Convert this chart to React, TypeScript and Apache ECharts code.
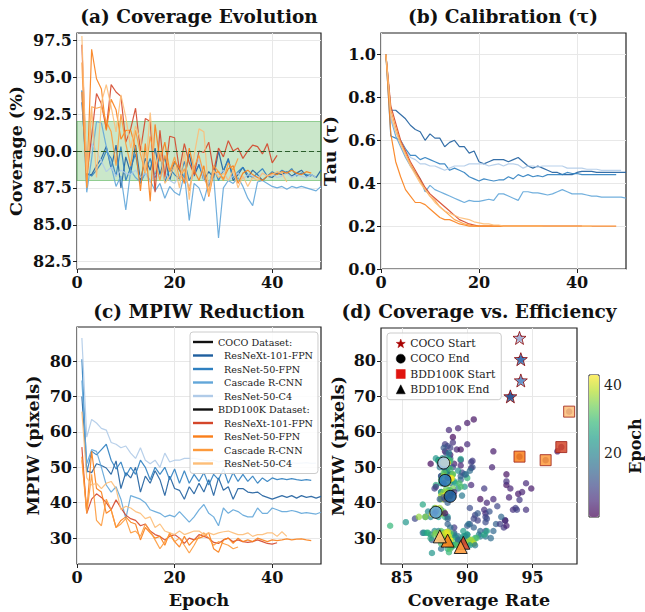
import React, { useEffect, useRef } from "react";
import * as echarts from "echarts";

const modelNames = ["ResNeXt-101-FPN", "ResNet-50-FPN", "Cascade R-CNN", "ResNet-50-C4"];
const cocoColors = ["#1f5f9f", "#2f80c0", "#62a6d9", "#b0cbe8"];
const bddColors = ["#d4462a", "#fa7f1a", "#fd9a3c", "#fdbe78"];

// ---- Coverage (%) per epoch ----
const covCocoX101 = [
  93.3, 88.4, 88.4, 89.0, 89.5, 90.3, 88.8, 90.4, 87.5, 89.6,
  88.5, 90.4, 88.0, 89.5, 88.7, 90.2, 88.4, 89.6, 88.0, 89.3,
  88.7, 88.2, 89.8, 88.3, 89.1, 88.0, 88.6, 88.2, 90.0, 88.6,
  89.5, 88.0, 88.4, 88.9, 88.2, 88.7, 88.4, 88.0, 88.3, 88.2,
  88.5, 88.4, 88.6, 88.3, 88.5, 88.7, 88.3, 88.4, 88.2, 88.7];
const covCocoR50 = [
  94.1, 88.5, 88.3, 88.7, 89.2, 90.0, 89.5, 88.3, 90.3, 88.0,
  88.9, 89.8, 87.8, 88.6, 89.5, 88.2, 89.9, 87.9, 88.8, 88.4,
  88.1, 89.3, 88.0, 88.6, 89.0, 88.3, 87.6, 88.9, 88.0, 88.7,
  89.4, 88.2, 88.6, 88.9, 88.4, 88.2, 88.5, 88.8, 88.3, 88.6,
  88.4, 88.7, 88.5, 88.8, 88.3, 88.5, 88.4, 88.3];
const covCocoCascade = [
  94.1, 87.2, 89.5, 92.0, 91.9, 90.3, 89.0, 87.6, 88.3, 86.0,
  88.7, 88.2, 87.9, 88.5, 88.0, 87.3, 87.8, 86.8, 87.6, 87.2,
  87.0, 88.5, 85.3, 87.8, 87.5, 86.6, 87.9, 88.3, 84.1, 87.5,
  88.0, 87.8, 88.2, 87.6, 86.8, 86.3, 87.9, 88.0, 87.8, 87.6,
  87.5, 87.6, 87.4, 87.6, 87.5, 87.6, 87.5, 87.4, 87.3, 87.6];
const covCocoC4 = [
  94.0, 88.9, 90.5, 90.0, 89.3, 88.6, 88.9, 88.3, 88.7, 88.5,
  88.4, 88.7, 88.2, 88.5, 87.9, 88.4, 88.2, 88.6, 88.0, 87.8,
  88.4, 88.1, 87.6, 88.5, 89.5, 88.0, 87.8, 88.6, 88.4, 88.7,
  88.0, 88.3, 88.5, 88.1, 88.4, 88.3, 88.2, 88.5, 88.3, 88.4,
  88.2, 88.3, 88.5, 88.2, 88.4, 88.3, 88.2, 88.4, 88.2];
const covBddX101 = [
  97.2, 88.3, 91.0, 93.9, 93.2, 91.5, 94.5, 94.0, 93.7, 90.6,
  91.5, 92.9, 90.0, 92.2, 92.0, 87.2, 91.4, 88.2, 91.0, 90.9,
  88.7, 90.5, 89.2, 88.4, 90.0, 89.9, 90.6, 88.6, 90.2, 89.6,
  90.7, 90.0, 90.2, 89.5, 90.0, 90.4, 90.3, 89.8, 90.5, 89.2,
  89.7];
const covBddR50 = [
  94.0, 87.6, 96.9, 94.9, 94.2, 91.4, 93.5, 92.8, 90.8, 91.4,
  91.4, 90.2, 87.3, 90.5, 86.6, 91.8, 89.3, 90.6, 88.6, 89.3,
  88.8, 87.8, 90.2, 88.7, 88.0, 89.0, 86.9, 88.5, 88.6, 88.1,
  88.8, 89.0, 87.8, 88.5, 88.7, 88.4, 88.2, 88.0, 88.3, 88.5,
  88.4, 88.6, 88.5, 88.7, 88.5, 88.4, 88.6, 88.5];
const covBddCascade = [
  96.0, 87.5, 93.0, 92.9, 93.0, 92.0, 91.3, 89.0, 92.5, 90.5,
  89.0, 91.4, 89.8, 88.5, 91.0, 89.3, 88.0, 89.7, 88.6, 89.6,
  88.1, 88.8, 87.3, 88.9, 89.7, 88.4, 87.2, 89.0, 88.6, 88.0,
  89.2, 88.7, 89.5];
const covBddC4 = [
  97.8, 88.5, 93.0, 88.2, 93.3, 94.5, 93.0, 91.3, 93.8, 92.3,
  90.2, 91.7, 90.8, 88.5, 92.6, 88.7, 90.1, 87.8, 88.3, 89.0,
  87.5, 90.0, 86.7, 89.7, 91.5, 91.3, 87.0, 88.7, 88.2, 88.5,
  88.0, 88.7, 87.5, 88.3, 87.6, 88.2, 88.0, 88.5, 88.3, 88.4,
  88.6, 88.5, 87.9];

// ---- Tau per epoch ----
const tauCocoX101 = [
  1.00, 0.74, 0.74, 0.72, 0.70, 0.67, 0.65, 0.64, 0.60, 0.63,
  0.61, 0.61, 0.57, 0.59, 0.60, 0.57, 0.57, 0.54, 0.55, 0.50,
  0.49, 0.50, 0.51, 0.51, 0.51, 0.50, 0.51, 0.52, 0.50, 0.48,
  0.47, 0.48, 0.47, 0.46, 0.45, 0.45, 0.44, 0.44, 0.44, 0.45,
  0.455, 0.455, 0.455, 0.45, 0.45, 0.45, 0.45, 0.45, 0.45, 0.45];
const tauCocoR50 = [
  1.00, 0.62, 0.61, 0.60, 0.56, 0.53, 0.53, 0.51, 0.52, 0.51,
  0.50, 0.49, 0.49, 0.46, 0.47, 0.46, 0.45, 0.43, 0.42, 0.41,
  0.42, 0.415, 0.41, 0.415, 0.415, 0.43, 0.42, 0.44, 0.43, 0.44,
  0.43, 0.435, 0.43, 0.44, 0.44, 0.44, 0.44, 0.45, 0.445, 0.445,
  0.44, 0.44, 0.44, 0.44, 0.44, 0.44, 0.44, 0.44];
const tauCocoCascade = [
  1.00, 0.70, 0.62, 0.57, 0.52, 0.48, 0.45, 0.42, 0.36, 0.39,
  0.37, 0.36, 0.35, 0.34, 0.33, 0.32, 0.31, 0.32, 0.315, 0.315,
  0.32, 0.325, 0.32, 0.35, 0.35, 0.34, 0.33, 0.32, 0.36, 0.36,
  0.355, 0.355, 0.35, 0.345, 0.35, 0.36, 0.37, 0.36, 0.35, 0.35,
  0.35, 0.345, 0.34, 0.34, 0.335, 0.335, 0.335, 0.335, 0.335, 0.33];
const tauCocoC4 = [
  1.00, 0.70, 0.64, 0.60, 0.55, 0.52, 0.51, 0.49, 0.49, 0.48,
  0.48, 0.47, 0.46, 0.47, 0.48, 0.48, 0.48, 0.49, 0.49, 0.49,
  0.49, 0.48, 0.485, 0.49, 0.48, 0.49, 0.49, 0.485, 0.47, 0.48,
  0.48, 0.475, 0.48, 0.48, 0.48, 0.48, 0.48, 0.47, 0.47, 0.47,
  0.47, 0.465, 0.465, 0.465, 0.46, 0.46, 0.46, 0.46, 0.46];
const tauBddX101 = [
  1.00, 0.76, 0.68, 0.60, 0.55, 0.50, 0.46, 0.42, 0.38, 0.35,
  0.33, 0.31, 0.29, 0.27, 0.25, 0.23, 0.22, 0.21, 0.205, 0.20,
  0.20, 0.20, 0.20, 0.20, 0.20, 0.20, 0.20, 0.20, 0.20, 0.20,
  0.20, 0.20, 0.20, 0.20, 0.20, 0.20, 0.20, 0.20, 0.20, 0.20,
  0.20];
const tauBddR50 = [
  1.00, 0.63, 0.50, 0.43, 0.37, 0.34, 0.31, 0.31, 0.30, 0.28,
  0.26, 0.24, 0.23, 0.23, 0.22, 0.21, 0.205, 0.20, 0.20, 0.20,
  0.20, 0.20, 0.20, 0.20, 0.20, 0.20, 0.20, 0.20, 0.20, 0.20,
  0.20, 0.20, 0.20, 0.20, 0.20, 0.20, 0.20, 0.20, 0.20, 0.20,
  0.20, 0.20, 0.20, 0.20, 0.20, 0.20, 0.20, 0.20];
const tauBddCascade = [
  1.00, 0.74, 0.66, 0.59, 0.54, 0.49, 0.45, 0.41, 0.37, 0.34,
  0.32, 0.29, 0.27, 0.25, 0.23, 0.22, 0.21, 0.205, 0.20, 0.20,
  0.20, 0.20, 0.20, 0.20, 0.20, 0.20, 0.20, 0.20, 0.20, 0.20,
  0.20, 0.20, 0.20];
const tauBddC4 = [
  1.00, 0.72, 0.64, 0.58, 0.53, 0.48, 0.44, 0.40, 0.37, 0.34,
  0.31, 0.29, 0.27, 0.26, 0.25, 0.24, 0.235, 0.23, 0.22, 0.215,
  0.21, 0.21, 0.205, 0.205, 0.20, 0.20, 0.20, 0.20, 0.20, 0.20,
  0.20, 0.20, 0.20, 0.20, 0.20, 0.20, 0.20, 0.20, 0.20, 0.20,
  0.20, 0.20, 0.20];

// ---- MPIW (pixels) per epoch ----
const mpiwCocoX101 = [
  70.0, 49.0, 48.5, 51.0, 50.5, 49.8, 48.0, 51.8, 44.0, 48.5,
  47.0, 50.0, 43.0, 47.5, 45.5, 49.0, 46.5, 42.0, 47.5, 44.0,
  43.5, 41.0, 44.5, 42.5, 45.5, 43.0, 46.5, 42.0, 47.0, 43.5,
  44.5, 41.0, 44.0, 44.0, 43.0, 42.8, 43.0, 42.0, 41.5, 41.0,
  41.5, 42.0, 41.5, 42.0, 41.3, 42.0, 41.5, 41.8, 41.3, 41.8];
const mpiwCocoR50 = [
  80.5, 48.5, 54.5, 53.5, 55.0, 56.5, 52.0, 49.5, 51.5, 47.5,
  50.0, 48.0, 52.0, 50.0, 46.5, 50.0, 48.0, 50.0, 46.5, 49.5,
  45.5, 49.0, 45.5, 48.0, 46.0, 48.5, 45.0, 48.0, 46.5, 49.5,
  45.5, 48.5, 46.0, 48.0, 46.0, 47.5, 45.5, 47.0, 46.0, 47.0,
  46.5, 46.8, 46.5, 46.8, 46.5, 46.3, 46.5, 46.3];
const mpiwCocoCascade = [
  74.5, 51.0, 55.0, 54.5, 50.0, 45.0, 43.0, 44.5, 41.0, 35.5,
  42.0, 41.5, 41.0, 40.0, 38.0, 37.5, 37.0, 36.0, 36.5, 36.0,
  37.5, 36.0, 34.5, 36.0, 38.0, 39.5, 37.0, 36.0, 33.5, 38.5,
  37.0, 38.0, 37.5, 36.5, 36.0, 36.0, 38.5, 37.0, 37.0, 38.5,
  38.0, 37.5, 37.5, 37.8, 37.5, 37.0, 37.2, 37.0, 36.8, 37.3];
const mpiwCocoC4 = [
  86.5, 58.5, 63.5, 62.5, 61.0, 60.5, 57.0, 56.5, 55.5, 56.0,
  54.0, 52.5, 55.5, 52.0, 51.0, 52.0, 50.0, 54.0, 51.5, 52.0,
  52.0, 52.5, 52.5, 52.5, 52.3, 52.0, 51.8, 52.0, 51.5, 51.8,
  51.5, 51.7, 51.3, 51.5, 51.2, 51.5, 51.3, 51.4, 51.2, 51.3,
  51.1, 51.3, 51.2, 51.3, 51.1, 51.2, 51.3, 51.1, 51.2];
const mpiwBddX101 = [
  55.7, 37.0, 41.0, 42.5, 41.5, 40.0, 38.0, 40.8, 38.5, 36.5,
  35.5, 35.0, 33.5, 34.0, 32.0, 31.0, 30.5, 29.5, 30.5, 31.0,
  30.0, 28.5, 30.0, 29.5, 31.0, 30.5, 30.0, 28.8, 28.5, 29.5,
  30.0, 29.0, 29.5, 29.0, 28.8, 29.0, 29.5, 29.0, 28.5, 28.3,
  28.7];
const mpiwBddR50 = [
  53.0, 37.5, 54.5, 44.0, 43.0, 37.0, 38.0, 33.0, 35.0, 36.0,
  34.5, 34.0, 29.5, 33.0, 31.5, 30.0, 30.5, 28.0, 31.5, 29.0,
  27.5, 30.5, 28.0, 29.5, 30.0, 30.5, 31.5, 27.0, 26.0, 29.5,
  30.0, 28.5, 30.0, 29.0, 29.5, 29.0, 30.0, 29.5, 29.0, 29.5,
  29.3, 29.5, 29.8, 29.5, 29.7, 29.8, 29.5, 29.3];
const mpiwBddCascade = [
  52.0, 37.0, 48.0, 35.0, 33.5, 41.0, 38.0, 33.0, 34.0, 35.5,
  31.5, 32.0, 30.5, 34.0, 32.0, 29.5, 27.0, 29.0, 31.0, 29.0,
  30.0, 28.0, 25.8, 28.0, 30.5, 31.5, 30.0, 28.0, 29.0, 28.5,
  28.0, 27.0, 27.5];
const mpiwBddC4 = [
  65.7, 47.0, 45.0, 45.5, 44.0, 45.5, 46.0, 44.0, 38.0, 39.0,
  38.5, 37.5, 37.0, 35.5, 36.0, 33.0, 34.0, 32.0, 31.5, 31.0,
  32.0, 31.0, 31.5, 32.0, 32.0, 31.0, 31.5, 31.0, 31.5, 31.8,
  32.0, 31.5, 31.0, 31.0, 31.5, 30.5, 31.0, 31.0, 31.5, 31.5,
  30.5, 31.8, 30.5];

// ---- tick labels ----
const covTicks = [82.5, 85.0, 87.5, 90.0, 92.5, 95.0, 97.5];
const tauTicks = [0.0, 0.2, 0.4, 0.6, 0.8, 1.0];
const epochTicks = [0, 20, 40];
const mpiwTicks = [30, 40, 50, 60, 70, 80];
const rateTicks = [85, 90, 95];
const colorbarTicks = [20, 40];
const viridis = ["#440154", "#482878", "#3e4989", "#31688e", "#26828e", "#1f9e89", "#35b779", "#6ece58", "#b5de2b", "#fde725"];

const FONT = "DejaVu Serif";

const cov = [covCocoX101, covCocoR50, covCocoCascade, covCocoC4, covBddX101, covBddR50, covBddCascade, covBddC4];
const tau = [tauCocoX101, tauCocoR50, tauCocoCascade, tauCocoC4, tauBddX101, tauBddR50, tauBddCascade, tauBddC4];
const mpiw = [mpiwCocoX101, mpiwCocoR50, mpiwCocoCascade, mpiwCocoC4, mpiwBddX101, mpiwBddR50, mpiwBddCascade, mpiwBddC4];
const colors = [...cocoColors, ...bddColors];
const names = [
  ...modelNames.map((m) => "COCO|" + m),
  ...modelNames.map((m) => "BDD100K|" + m),
];

function blend(hex: string, a: number) {
  const n = parseInt(hex.slice(1), 16);
  const r = (n >> 16) & 255, g = (n >> 8) & 255, b = n & 255;
  const f = (c: number) => Math.round(c * a + 255 * (1 - a));
  return `rgb(${f(r)},${f(g)},${f(b)})`;
}

const STAR = "path://M0,-10L2.35,-3.24L9.51,-3.09L3.8,1.24L5.88,8.09L0,4.1L-5.88,8.09L-3.8,1.24L-9.51,-3.09L-2.35,-3.24Z";

function buildOption() {
  const tickLabel = { fontFamily: FONT, fontWeight: "bold" as const, fontSize: 16, color: "#111" };
  const nameStyle = { fontFamily: FONT, fontWeight: "bold" as const, fontSize: 17.5, color: "#111" };
  const splitLine = { show: true, lineStyle: { color: "#e8e8e8", width: 1 } };
  const mkX = (gi: number, min: number, max: number, ticks: number[], name?: string, fmt?: (v: number) => string) => ({
    type: "value", gridIndex: gi, min, max,
    axisLine: { show: false },
    axisTick: { show: true, length: 4, customValues: ticks, lineStyle: { color: "#222" } },
    axisLabel: { ...tickLabel, margin: 5, customValues: ticks, formatter: fmt || ((v: number) => String(v)) },
    splitLine: { ...splitLine },
    name, nameLocation: "middle", nameGap: 27, nameTextStyle: nameStyle,
  });
  const mkY = (gi: number, min: number, max: number, ticks: number[], name: string, gap: number, fmt?: (v: number) => string) => ({
    type: "value", gridIndex: gi, min, max,
    axisLine: { show: false },
    axisTick: { show: true, length: 4, customValues: ticks, lineStyle: { color: "#222" } },
    axisLabel: { ...tickLabel, margin: 5, customValues: ticks, formatter: fmt || ((v: number) => String(v)) },
    splitLine: { ...splitLine },
    name, nameLocation: "middle", nameGap: gap, nameRotate: 90, nameTextStyle: nameStyle,
  });

  const gridBase = { show: true, borderColor: "#222", borderWidth: 1.2, backgroundColor: "transparent", containLabel: false };
  const grid = [
    { ...gridBase, left: 77, top: 33, width: 244, height: 236 },
    { ...gridBase, left: 381, top: 33, width: 245, height: 236 },
    { ...gridBase, left: 77, top: 327, width: 244, height: 237 },
    { ...gridBase, left: 381, top: 328, width: 196, height: 236 },
    { ...gridBase, left: 589, top: 375, width: 10, height: 142, borderWidth: 1 },
  ];
  const xAxis: any[] = [
    mkX(0, 0, 50, epochTicks),
    mkX(1, 0, 50, epochTicks),
    mkX(2, 0, 50, epochTicks, "Epoch"),
    mkX(3, 83.4, 98.4, rateTicks, "Coverage Rate"),
    { type: "value", gridIndex: 4, min: 0, max: 1, show: false },
  ];
  const yAxis: any[] = [
    mkY(0, 82, 98, covTicks, "Coverage (%)", 52, (v) => v.toFixed(1)),
    mkY(1, 0, 1.1, tauTicks, "Tau (τ)", 42, (v) => v.toFixed(1)),
    mkY(2, 22.7, 89.6, mpiwTicks, "MPIW (pixels)", 35),
    mkY(3, 22.7, 89.3, mpiwTicks, "MPIW (pixels)", 34),
    {
      type: "value", gridIndex: 4, min: 1, max: 43, position: "right",
      axisLine: { show: false },
      axisTick: { show: true, length: 4, customValues: colorbarTicks, lineStyle: { color: "#222" } },
      axisLabel: { fontFamily: FONT, fontSize: 14, color: "#222", margin: 5, customValues: colorbarTicks },
      splitLine: { show: false },
      name: "Epoch", nameLocation: "middle", nameRotate: 90, nameGap: 28, nameTextStyle: { ...nameStyle, fontSize: 16 },
    },
  ];

  const series: any[] = [];
  const lineSeries = (panel: number, data: number[][]) => {
    data.forEach((arr, s) => {
      series.push({
        type: "line", name: names[s], xAxisIndex: panel, yAxisIndex: panel,
        data: arr.map((v, i) => [i + 1, v]),
        symbol: "none", showSymbol: false, color: colors[s],
        lineStyle: { width: 1.2, opacity: 0.9 }, z: 3, silent: true,
      });
    });
  };
  // band + target line in panel (a)
  series.push({
    type: "line", name: "_band", xAxisIndex: 0, yAxisIndex: 0, data: [], symbol: "none", silent: true,
    markArea: {
      silent: true,
      itemStyle: { color: "rgba(44,160,44,0.25)", borderColor: "rgba(44,160,44,0.45)", borderWidth: 1 },
      data: [[{ xAxis: 0, yAxis: 88 }, { xAxis: 50, yAxis: 92 }]],
    },
    markLine: {
      silent: true, symbol: "none", label: { show: false },
      lineStyle: { color: "#2c5e2c", type: [5, 3], width: 1 },
      data: [{ yAxis: 90 }],
    },
  });
  lineSeries(0, cov);
  lineSeries(1, tau);
  lineSeries(2, mpiw);
  series.push({ type: "line", name: "COCO Dataset:", xAxisIndex: 2, yAxisIndex: 2, data: [], color: "#111", symbol: "none" });
  series.push({ type: "line", name: "BDD100K Dataset:", xAxisIndex: 2, yAxisIndex: 2, data: [], color: "#111", symbol: "none" });

  // scatter of coverage vs MPIW, coloured by epoch
  const scatterData: number[][] = [];
  cov.forEach((c, s) => c.forEach((v, i) => scatterData.push([v, mpiw[s][i], i + 1])));
  const scatterIndex = series.length;
  series.push({
    type: "scatter", name: "_scatter", xAxisIndex: 3, yAxisIndex: 3, data: scatterData,
    symbolSize: 6.5, itemStyle: { opacity: 0.7 }, z: 2, silent: true,
  });
  series.push({
    type: "scatter", name: "COCO Start", xAxisIndex: 3, yAxisIndex: 3, symbol: STAR, symbolSize: 13, z: 5,
    itemStyle: { color: "#b00000", borderColor: "#8b0000", borderWidth: 1 },
    data: [0, 1, 2, 3].map((s) => ({ value: [cov[s][0], mpiw[s][0]], itemStyle: { color: colors[s] } })),
  });
  series.push({
    type: "scatter", name: "COCO End", xAxisIndex: 3, yAxisIndex: 3, symbol: "circle", symbolSize: 12, z: 5,
    itemStyle: { color: "#000", borderColor: "#111", borderWidth: 1, opacity: 0.9 },
    data: [0, 1, 2, 3].map((s) => ({ value: [cov[s][cov[s].length - 1], mpiw[s][mpiw[s].length - 1]], itemStyle: { color: colors[s] } })),
  });
  series.push({
    type: "scatter", name: "BDD100K Start", xAxisIndex: 3, yAxisIndex: 3, symbol: "rect", symbolSize: 11, z: 5,
    itemStyle: { color: "#e41a1c", borderColor: "#a0261c", borderWidth: 1, opacity: 0.85 },
    data: [4, 5, 6, 7].map((s) => ({ value: [cov[s][0], mpiw[s][0]], itemStyle: { color: colors[s] } })),
  });
  series.push({
    type: "scatter", name: "BDD100K End", xAxisIndex: 3, yAxisIndex: 3, symbol: "triangle", symbolSize: 13, z: 5,
    itemStyle: { color: "#000", borderColor: "#111", borderWidth: 1, opacity: 0.9 },
    data: [4, 5, 6, 7].map((s) => ({ value: [cov[s][cov[s].length - 1], mpiw[s][mpiw[s].length - 1]], itemStyle: { color: colors[s] } })),
  });

  const titleText = (text: string, x: number, y: number) => ({
    type: "text", x, y, silent: true,
    style: { text, fill: "#111", font: `bold 18.5px "${FONT}"`, align: "center", verticalAlign: "middle" },
  });

  const markerLegend = (name: string, icon: string, color: string) => ({
    name, icon, itemStyle: { color, borderColor: color, borderWidth: 0.5, opacity: 1 },
  });

  return {
    animation: false,
    backgroundColor: "#ffffff",
    grid, xAxis, yAxis, series,
    legend: [
      {
        data: ["COCO Dataset:", ...names.slice(0, 4), "BDD100K Dataset:", ...names.slice(4)],
        orient: "vertical", left: 190, top: 332, itemWidth: 20, itemHeight: 2.4, itemGap: 1.5, icon: "rect",
        formatter: (n: string) => (n.includes("|") ? "\u00a0\u00a0" + n.split("|")[1] : n),
        textStyle: { fontFamily: FONT, fontSize: 9.6, color: "#222", lineHeight: 12 },
        backgroundColor: "rgba(255,255,255,0.85)", borderColor: "#cccccc", borderWidth: 1, borderRadius: 3,
        padding: [4, 5, 4, 3], selectedMode: false,
      },
      {
        data: [
          markerLegend("COCO Start", STAR, "#a80000"),
          markerLegend("COCO End", "circle", "#000000"),
          markerLegend("BDD100K Start", "rect", "#e0140f"),
          markerLegend("BDD100K End", "triangle", "#000000"),
        ],
        orient: "vertical", left: 387, top: 333, itemWidth: 9, itemHeight: 9, itemGap: 2.5,
        textStyle: { fontFamily: FONT, fontSize: 10.8, color: "#222", lineHeight: 12.8 },
        backgroundColor: "rgba(255,255,255,0.85)", borderColor: "#cccccc", borderWidth: 1, borderRadius: 3,
        padding: [4, 6, 4, 9], selectedMode: false,
      },
    ],
    visualMap: {
      type: "continuous", seriesIndex: scatterIndex, dimension: 2, min: 1, max: 43,
      inRange: { color: viridis },
      controller: { inRange: { color: viridis.map((c) => blend(c, 0.7)) } },
      calculable: false, show: true, left: 589, top: 375, itemWidth: 10, itemHeight: 142,
      padding: 0, orient: "vertical", showLabel: false, hoverLink: false,
    },
    graphic: [
      titleText("(a) Coverage Evolution", 199, 16),
      titleText("(b) Calibration (τ)", 503, 16),
      titleText("(c) MPIW Reduction", 199, 311),
      titleText("(d) Coverage vs. Efficiency", 479, 311),
    ],
  };
}

export default function App() {
  const ref = useRef<HTMLDivElement>(null);
  useEffect(() => {
    if (!ref.current) return;
    const chart = echarts.init(ref.current, null, { renderer: "svg" });
    chart.setOption(buildOption() as any);
    return () => chart.dispose();
  }, []);
  return <div ref={ref} style={{ position: "fixed", left: 0, top: 0, width: 645, height: 612, background: "#fff" }} />;
}
